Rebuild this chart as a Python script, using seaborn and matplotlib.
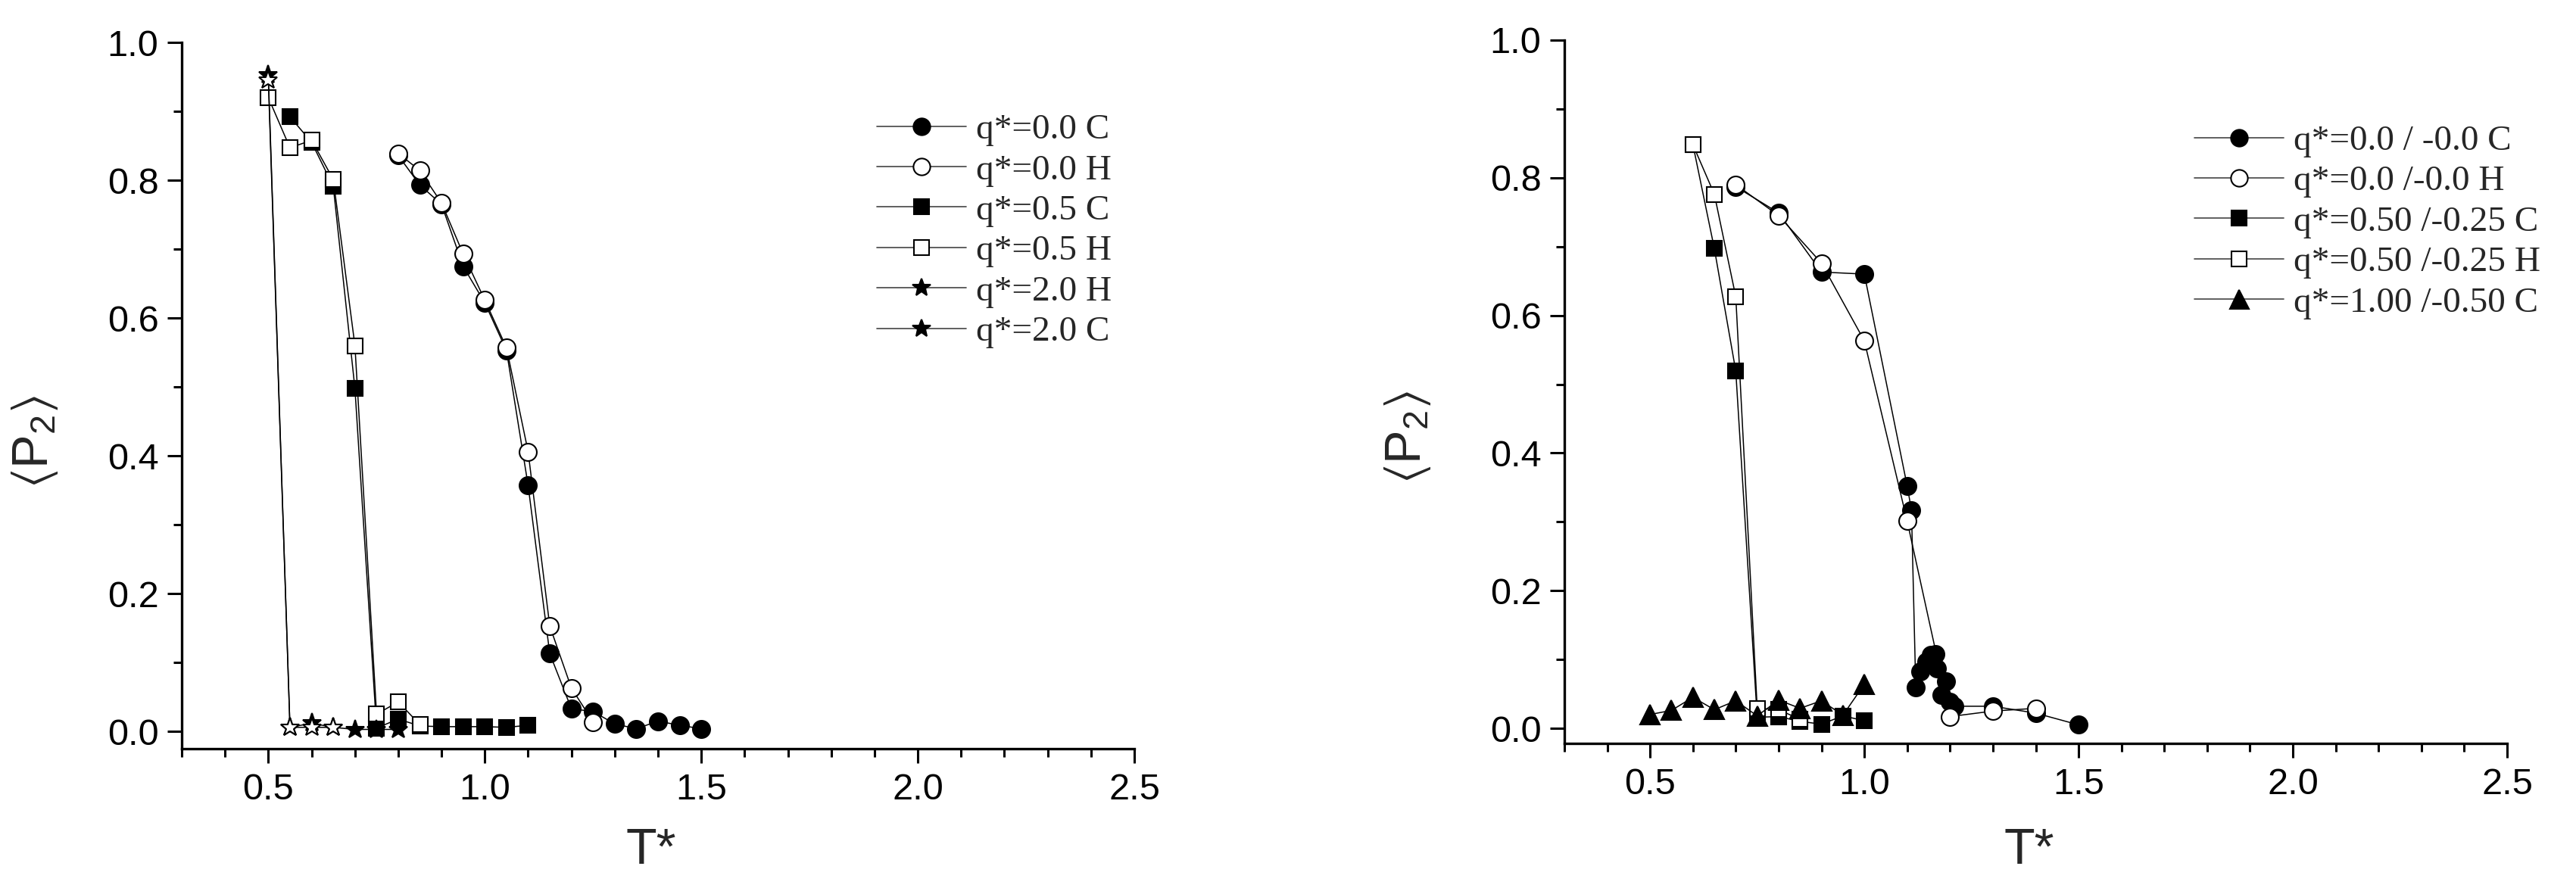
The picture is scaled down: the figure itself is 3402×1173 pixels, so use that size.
import numpy as np
import pandas as pd
import matplotlib
matplotlib.use("Agg")
import matplotlib.pyplot as plt
import seaborn as sns
from matplotlib.lines import Line2D
from matplotlib.ticker import MultipleLocator, FormatStrFormatter

# ---------------- data: left panel ----------------
c00_x = [0.80, 0.85, 0.90, 0.95, 1.00, 1.05, 1.10, 1.15, 1.20, 1.25, 1.30, 1.35, 1.40, 1.45, 1.50]
c00_y = [0.836, 0.793, 0.765, 0.675, 0.622, 0.553, 0.357, 0.113, 0.033, 0.029, 0.011, 0.004, 0.015, 0.009, 0.004]
h00_x = [0.80, 0.85, 0.90, 0.95, 1.00, 1.05, 1.10, 1.15, 1.20, 1.25]
h00_y = [0.839, 0.814, 0.767, 0.693, 0.626, 0.557, 0.406, 0.153, 0.063, 0.014]
c05_x = [0.55, 0.60, 0.65, 0.70, 0.75, 0.80, 0.85, 0.90, 0.95, 1.00, 1.05, 1.10]
c05_y = [0.892, 0.855, 0.791, 0.498, 0.005, 0.018, 0.008, 0.007, 0.007, 0.007, 0.006, 0.009]
h05_x = [0.50, 0.55, 0.60, 0.65, 0.70, 0.75, 0.80, 0.85]
h05_y = [0.920, 0.847, 0.858, 0.801, 0.560, 0.025, 0.043, 0.010]
s20a_x = [0.50, 0.55, 0.60, 0.65, 0.70, 0.75, 0.80]
s20a_y = [0.953, 0.006, 0.012, 0.006, 0.003, 0.003, 0.003]
s20b_x = [0.50, 0.55, 0.60, 0.65]
s20b_y = [0.945, 0.006, 0.006, 0.006]
left_labels = ["q*=0.0 C", "q*=0.0 H", "q*=0.5 C", "q*=0.5 H", "q*=2.0 H", "q*=2.0 C"]

# ---------------- data: right panel ----------------
rc0_x = [0.70, 0.80, 0.90, 1.00, 1.10, 1.11, 1.12, 1.13, 1.145, 1.155, 1.165, 1.17, 1.18, 1.19, 1.20, 1.21, 1.30, 1.40, 1.50]
rc0_y = [0.787, 0.749, 0.663, 0.660, 0.352, 0.317, 0.059, 0.083, 0.097, 0.107, 0.108, 0.087, 0.048, 0.068, 0.038, 0.032, 0.032, 0.022, 0.005]
rh0_x = [0.70, 0.80, 0.90, 1.00, 1.10, 1.20, 1.30, 1.40]
rh0_y = [0.790, 0.745, 0.676, 0.563, 0.301, 0.017, 0.025, 0.029]
rc5_x = [0.60, 0.65, 0.70, 0.75, 0.80, 0.85, 0.90, 0.95, 1.00]
rc5_y = [0.848, 0.697, 0.519, 0.016, 0.017, 0.010, 0.006, 0.018, 0.011]
rh5_x = [0.60, 0.65, 0.70, 0.75, 0.80, 0.85]
rh5_y = [0.848, 0.776, 0.627, 0.029, 0.027, 0.013]
rt1_x = [0.50, 0.55, 0.60, 0.65, 0.70, 0.75, 0.80, 0.85, 0.90, 0.95, 1.00]
rt1_y = [0.020, 0.026, 0.045, 0.027, 0.040, 0.018, 0.041, 0.029, 0.040, 0.019, 0.064]
right_labels = ["q*=0.0 / -0.0 C", "q*=0.0 /-0.0 H", "q*=0.50 /-0.25 C",
                "q*=0.50 /-0.25 H", "q*=1.00 /-0.50 C"]

x_ticks = [0.5, 1.0, 1.5, 2.0, 2.5]
y_ticks = [0.0, 0.2, 0.4, 0.6, 0.8, 1.0]

# ---------------- style ----------------
sns.set_style("ticks")
plt.rcParams["font.family"] = ["Liberation Sans", "DejaVu Sans"]
plt.rcParams["mathtext.fontset"] = "custom"
plt.rcParams["mathtext.rm"] = "Liberation Sans"
plt.rcParams["mathtext.it"] = "Liberation Sans:italic"
plt.rcParams["mathtext.fallback"] = "stixsans"

W, H = 3402, 1173
fig = plt.figure(figsize=(W / 100, H / 100), dpi=100)
fig.patch.set_facecolor("white")
ax1 = fig.add_axes([240 / W, 1 - 989 / H, (1498 - 240) / W, (989 - 56) / H])
ax2 = fig.add_axes([2066 / W, 1 - 982 / H, (3311 - 2066) / W, (982 - 53) / H])

LW = 1.1
MEW = 1.5


def series(ax, xs, ys, marker, filled, ms, z):
    df = pd.DataFrame({"T": xs, "P2": ys})
    sns.lineplot(data=df, x="T", y="P2", ax=ax, estimator=None, sort=False,
                 color="black", lw=LW, marker=marker, markersize=ms,
                 markerfacecolor="black" if filled else "white",
                 markeredgecolor="black", markeredgewidth=MEW, zorder=z)


# left panel (draw order: squares, circles, stars)
series(ax1, c05_x, c05_y, "s", True, 15, 3)
series(ax1, h05_x, h05_y, "s", False, 15, 4)
series(ax1, c00_x, c00_y, "o", True, 16.5, 5)
series(ax1, h00_x, h00_y, "o", False, 16.5, 6)
series(ax1, s20a_x, s20a_y, "*", True, 18.5, 7)
series(ax1, s20b_x, s20b_y, "*", False, 18.5, 8)

# right panel
series(ax2, rc5_x, rc5_y, "s", True, 15, 3)
series(ax2, rh5_x, rh5_y, "s", False, 15, 4)
series(ax2, rc0_x, rc0_y, "o", True, 16.5, 5)
series(ax2, rh0_x, rh0_y, "o", False, 16.5, 6)
series(ax2, rt1_x, rt1_y, "^", True, 18.5, 7)


def style_axes(ax, ybot, xlab_y, ylab_x):
    ax.set_xlim(0.3, 2.5)
    ax.set_ylim(ybot, 1.0)
    ax.set_xticks(x_ticks)
    ax.set_yticks(y_ticks)
    ax.xaxis.set_minor_locator(MultipleLocator(0.1))
    ax.yaxis.set_minor_locator(MultipleLocator(0.1))
    ax.xaxis.set_major_formatter(FormatStrFormatter("%.1f"))
    ax.yaxis.set_major_formatter(FormatStrFormatter("%.1f"))
    for s in ["top", "right"]:
        ax.spines[s].set_visible(False)
    for s in ["left", "bottom"]:
        ax.spines[s].set_linewidth(2.4)
        ax.spines[s].set_color("black")
    ax.tick_params(which="major", direction="out", length=14, width=2.2,
                   labelsize=35, colors="black")
    ax.tick_params(axis="x", which="major", pad=9)
    ax.tick_params(axis="y", which="major", pad=8)
    ax.tick_params(which="minor", direction="out", length=8, width=2.2, colors="black")
    ax.set_xlabel("T*", fontsize=48)
    ax.set_ylabel(r"$\left\langle\mathrm{P}_{2}\right\rangle$", fontsize=48)
    ax.xaxis.set_label_coords(0.493, xlab_y)
    ax.yaxis.set_label_coords(ylab_x, 0.435)
    ax.set_facecolor("white")
    ax.grid(False)


style_axes(ax1, -0.025, -0.112, -0.128)
style_axes(ax2, -0.022, -0.120, -0.140)

# legends (handles drawn as in the original: both q*=2.0 entries with filled stars)
def handle(marker, filled, ms):
    return Line2D([], [], color="#444444", lw=1.2, marker=marker, markersize=ms,
                  markerfacecolor="black" if filled else "white",
                  markeredgecolor="black", markeredgewidth=1.5)

left_handles = [handle("o", True, 16), handle("o", False, 16), handle("s", True, 14),
                handle("s", False, 14), handle("*", True, 18), handle("*", True, 18)]
right_handles = [handle("o", True, 16), handle("o", False, 16), handle("s", True, 14),
                 handle("s", False, 14), handle("^", True, 18)]

leg_kw = dict(frameon=False, borderpad=0, borderaxespad=0, handlelength=2.5,
              handletextpad=0.28, labelspacing=0.22, loc="upper left",
              prop={"family": "Liberation Serif", "size": 34},
              bbox_transform=fig.transFigure)
fig.legend(left_handles, left_labels, bbox_to_anchor=(1158 / W, 1 - 150 / H), **leg_kw)
fig.legend(right_handles, right_labels, bbox_to_anchor=(2898 / W, 1 - 165 / H), **leg_kw)

fig.savefig("out.png", dpi=100, facecolor="white")
